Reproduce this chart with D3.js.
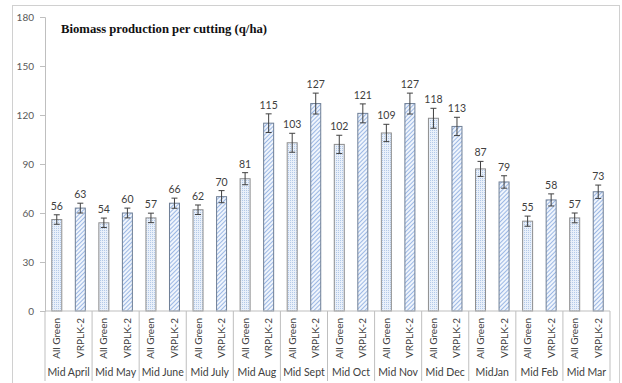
<!DOCTYPE html>
<html>
<head>
<meta charset="utf-8">
<script src="https://cdn.jsdelivr.net/npm/d3@7"></script>
<style>
  body { margin: 0; background: #fff; }
  svg { display: block; }
</style>
</head>
<body>
<div id="chart"></div>
<script>
// Data
const months = ["Mid April", "Mid May", "Mid June", "Mid July", "Mid Aug", "Mid Sept",
                "Mid Oct", "Mid Nov", "Mid Dec", "MidJan", "Mid Feb", "Mid Mar"];
const series = ["All Green", "VRPLK-2"];
const allGreen = [56, 54, 57, 62, 81, 103, 102, 109, 118, 87, 55, 57];
const vrplk = [63, 60, 66, 70, 115, 127, 121, 127, 113, 79, 68, 73];
// printed labels (the Mid Feb VRPLK-2 label reads 58 in the source)
const allGreenLabels = ["56", "54", "57", "62", "81", "103", "102", "109", "118", "87", "55", "57"];
const vrplkLabels = ["63", "60", "66", "70", "115", "127", "121", "127", "113", "79", "58", "73"];
const allGreenErr = [2.9, 2.9, 2.9, 2.9, 3.7, 5.8, 5.6, 5.3, 6.1, 4.6, 3.1, 3.0];
const vrplkErr = [3.0, 3.0, 3.1, 3.7, 5.7, 6.4, 5.8, 6.4, 5.6, 3.8, 3.7, 4.1];
const yTicks = [0, 30, 60, 90, 120, 150, 180];

const width = 622, height = 383;
const svg = d3.select("#chart").append("svg")
    .attr("width", width)
    .attr("height", height);

// fill patterns
const defs = svg.append("defs");
const dots = defs.append("pattern")
    .attr("id", "dots")
    .attr("patternUnits", "userSpaceOnUse")
    .attr("width", 2).attr("height", 2);
dots.append("rect").attr("width", 2).attr("height", 2).attr("fill", "#e9f0fa");
dots.append("rect").attr("width", 1).attr("height", 1).attr("fill", "#b3c9e8");

const hatch = defs.append("pattern")
    .attr("id", "hatch")
    .attr("patternUnits", "userSpaceOnUse")
    .attr("width", 3).attr("height", 3)
    .attr("patternTransform", "rotate(45)");
hatch.append("rect").attr("width", 3).attr("height", 3).attr("fill", "#f0f5fc");
hatch.append("line").attr("x1", 0).attr("y1", 0).attr("x2", 0).attr("y2", 3)
    .attr("stroke", "#86a9df").attr("stroke-width", 1.6);

// outer frame
svg.append("rect")
    .attr("x", 12.5).attr("y", 5.5)
    .attr("width", 607).attr("height", 390)
    .attr("fill", "none")
    .attr("stroke", "#d0d0d0");

const x0 = d3.scaleBand().domain(months).range([45, 610]);
const x1 = d3.scalePoint().domain(series).range([0, x0.bandwidth()]).padding(0.5);
const y = d3.scaleLinear().domain([0, 180]).range([311, 17]);
const barW = 10;

// y axis
const yAxis = svg.append("g")
    .attr("transform", "translate(45,0)")
    .call(d3.axisLeft(y).tickValues(yTicks).tickSize(5).tickPadding(6));
yAxis.select(".domain").attr("stroke", "#bfbfbf");
yAxis.selectAll(".tick line").attr("stroke", "#bfbfbf");
yAxis.selectAll("text")
    .attr("fill", "#595959")
    .style("font-family", "Lato, 'Open Sans', sans-serif")
    .style("font-size", "10px");

// title
svg.append("text")
    .attr("x", 61).attr("y", 33)
    .attr("fill", "#111")
    .attr("textLength", 206)
    .attr("lengthAdjust", "spacingAndGlyphs")
    .style("font-family", "'Liberation Serif', 'Times New Roman', serif")
    .style("font-weight", "bold")
    .style("font-size", "12.5px")
    .text("Biomass production per cutting (q/ha)");

const rows = months.map((m, i) => [
    { month: m, s: series[0], v: allGreen[i], e: allGreenErr[i], label: allGreenLabels[i] },
    { month: m, s: series[1], v: vrplk[i], e: vrplkErr[i], label: vrplkLabels[i] }
]).flat();

const cx = d => x0(d.month) + x1(d.s);

// bars
svg.append("g").selectAll("rect")
    .data(rows)
    .enter()
    .append("rect")
    .attr("x", d => cx(d) - barW / 2)
    .attr("y", d => y(d.v))
    .attr("width", barW)
    .attr("height", d => y(0) - y(d.v))
    .attr("fill", d => d.s === series[0] ? "url(#dots)" : "url(#hatch)")
    .attr("stroke", d => d.s === series[0] ? "#8e8e8e" : "#6f7f96")
    .attr("stroke-width", 1);

// error bars
const err = svg.append("g")
    .attr("stroke", "#404040")
    .attr("stroke-width", 1);
rows.forEach(d => {
    const c = cx(d);
    err.append("line").attr("x1", c).attr("x2", c).attr("y1", y(d.v + d.e)).attr("y2", y(d.v - d.e));
    err.append("line").attr("x1", c - 3).attr("x2", c + 3).attr("y1", y(d.v + d.e)).attr("y2", y(d.v + d.e));
    err.append("line").attr("x1", c - 3).attr("x2", c + 3).attr("y1", y(d.v - d.e)).attr("y2", y(d.v - d.e));
});

// value labels
svg.append("g").selectAll("text")
    .data(rows)
    .enter()
    .append("text")
    .attr("x", d => cx(d))
    .attr("y", d => y(d.v + d.e) - 5)
    .attr("text-anchor", "middle")
    .attr("fill", "#404040")
    .style("font-family", "Lato, 'Open Sans', sans-serif")
    .style("font-size", "10.5px")
    .text(d => d.label);

// x axis baseline
svg.append("line")
    .attr("x1", 45).attr("x2", 610)
    .attr("y1", y(0)).attr("y2", y(0))
    .attr("stroke", "#bfbfbf");

// group separators
svg.append("g").selectAll("line")
    .data(months.concat(["end"]))
    .enter()
    .append("line")
    .attr("x1", (d, i) => i < months.length ? x0(d) : x0.range()[1])
    .attr("x2", (d, i) => i < months.length ? x0(d) : x0.range()[1])
    .attr("y1", y(0))
    .attr("y2", 381)
    .attr("stroke", "#bfbfbf");

// series labels (rotated)
svg.append("g").selectAll("text")
    .data(rows)
    .enter()
    .append("text")
    .attr("transform", d => `translate(${cx(d) + 3.5},318) rotate(-90)`)
    .attr("text-anchor", "end")
    .attr("fill", "#404040")
    .style("font-family", "Lato, 'Open Sans', sans-serif")
    .style("font-size", "10px")
    .text(d => d.s);

// month labels
svg.append("g").selectAll("text")
    .data(months)
    .enter()
    .append("text")
    .attr("x", d => x0(d) + x0.bandwidth() / 2)
    .attr("y", 376)
    .attr("text-anchor", "middle")
    .attr("fill", "#404040")
    .style("font-family", "Lato, 'Open Sans', sans-serif")
    .style("font-size", "10.5px")
    .text(d => d);
</script>
</body>
</html>
